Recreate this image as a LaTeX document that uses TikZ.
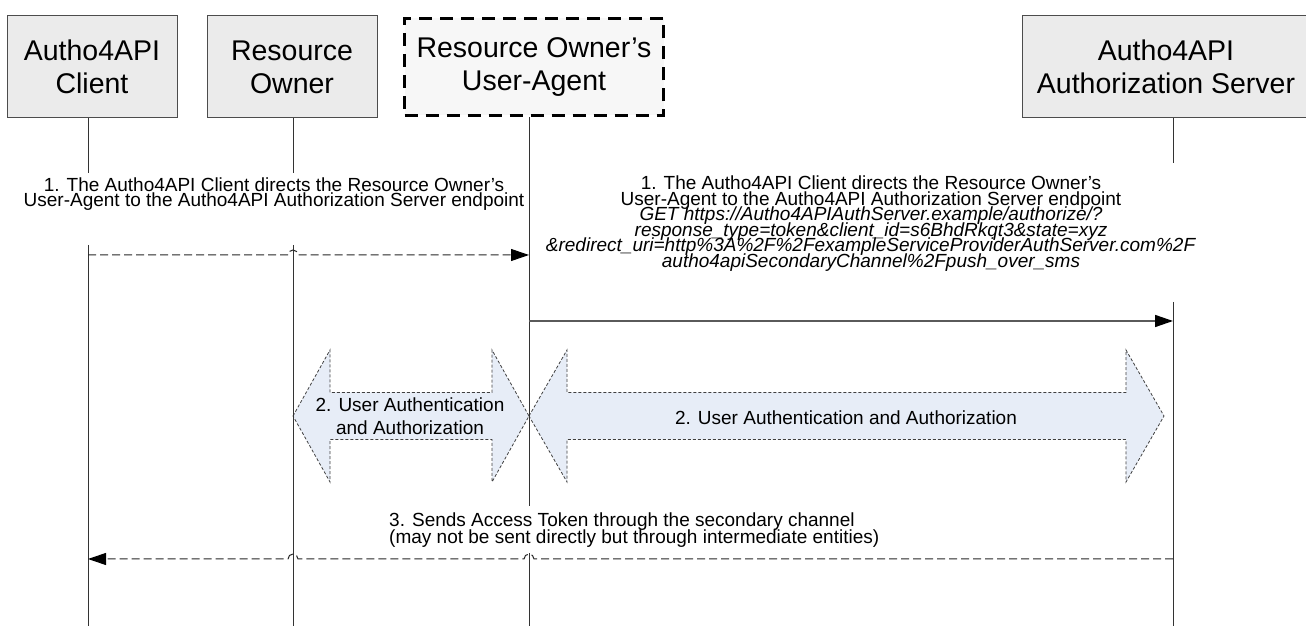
\documentclass[tikz,border=0pt]{standalone}
\usepackage{fontspec}
\setmainfont{Liberation Sans}
\usetikzlibrary{arrows.meta, calc}

\definecolor{boxgray}{HTML}{EBEBEB}
\definecolor{agentgray}{HTML}{F7F7F7}
\definecolor{authblue}{HTML}{E7EDF7}
\definecolor{wiregray}{HTML}{5A5A5A}
\newcommand{\lblfont}[1]{\fontsize{19}{#1}\selectfont\lineskiplimit=-30pt\relax}

\begin{document}
\begin{tikzpicture}[x=1pt, y=1pt,
    actor/.style={draw=black!70, line width=1pt, fill=boxgray, minimum width=170pt, minimum height=102pt, align=center, font=\fontsize{28.5}{33}\selectfont},
    life/.style={draw=black!80, line width=1pt},
    lbl/.style={inner sep=0pt, align=center, font=\lblfont{15}},
    msg/.style={draw=black!85, line width=1pt, dash pattern=on 8pt off 4pt, -{Triangle[length=18pt, width=12pt, color=black]}},
    call/.style={draw=wiregray, line width=1.5pt, -{Triangle[length=18pt, width=12pt, color=black]}},
    authblock/.style={draw=black!75, line width=0.8pt, dash pattern=on 3pt off 2pt, fill=authblue}]
    \useasboundingbox (0,0) rectangle (1306,626);

    \node[actor] (cli) at (92, 559) {Autho4API\\Client};
    \node[actor] (own) at (292, 559) {Resource\\Owner};
    \node[actor, fill=agentgray, draw=black, line width=3.5pt, dash pattern=on 13pt off 8pt, minimum width=259pt, minimum height=97pt] (ua) at (534, 559) {Resource Owner’s\\User-Agent};
    \node[actor, minimum width=288pt] (srv) at (1166, 559) {Autho4API\\Authorization Server};

    \draw[authblock] (293,210) -- (330,276) -- (330,233.5) -- (492,233.5) -- (492,276) -- (529,210) -- (492,144) -- (492,186.5) -- (330,186.5) -- (330,144) -- cycle;
    \draw[authblock] (529,210) -- (567,276) -- (567,233.5) -- (1126,233.5) -- (1126,276) -- (1164,210) -- (1126,144) -- (1126,186.5) -- (567,186.5) -- (567,144) -- cycle;
    \node[lbl, font=\lblfont{23}] (authL) at (410, 209.6) {2. User Authentication\\and Authorization};
    \node[lbl] (authR) at (846, 208.2) {2. User Authentication and Authorization};

    \coordinate (cliA) at (88, 453);
    \coordinate (cliB) at (88, 381);
    \coordinate (cliZ) at (88, 0);
    \coordinate (ownA) at (293, 453);
    \coordinate (ownB) at (293, 381);
    \coordinate (ownZ) at (293, 0);
    \coordinate (uaA) at (529, 120);
    \coordinate (uaB) at (529, 73);
    \coordinate (uaZ) at (529, 0);
    \coordinate (srvA) at (1173, 463);
    \coordinate (srvB) at (1173, 324);
    \coordinate (srvZ) at (1173, 0);
    \draw[life] (cli.south -| cliZ) -- (cliA) (cliB) -- (cliZ);
    \draw[life] (own.south -| ownZ) -- (ownA) (ownB) -- (ownZ);
    \draw[life] (ua.south -| uaZ) -- (uaA) (uaB) -- (uaZ);
    \draw[life] (srv.south -| srvZ) -- (srvA) (srvB) -- (srvZ);

    \coordinate (m1) at (0, 371);
    \coordinate (m2) at (0, 305);
    \coordinate (m3) at (0, 67);
    \draw[msg] (cliZ |- m1) -- ($(ownZ |- m1) + (-5,0)$) arc[start angle=180, end angle=0, radius=5] -- (uaZ |- m1);
    \draw[call] (uaZ |- m2) -- (srvZ |- m2);
    \draw[msg] (srvZ |- m3) -- ($(uaZ |- m3) + (5,0)$) arc[start angle=0, end angle=180, radius=5] -- ($(ownZ |- m3) + (5,0)$) arc[start angle=0, end angle=180, radius=5] -- (cliZ |- m3);

    \node[lbl] (req) at (274, 432) {1. The Autho4API Client directs the Resource Owner’s\\User-Agent to the Autho4API Authorization Server endpoint};
    \node[lbl, font=\lblfont{15.5}] (redir) at (871, 402.4) {1. The Autho4API Client directs the Resource Owner’s\\User-Agent to the Autho4API Authorization Server endpoint\\\textit{GET https://Autho4APIAuthServer.example/authorize/?}\\\textit{response\_type=token\&client\_id=s6BhdRkqt3\&state=xyz}\\\textit{\&redirect\_uri=http\%3A\%2F\%2FexampleServiceProviderAuthServer.com\%2F}\\\textit{autho4apiSecondaryChannel\%2Fpush\_over\_sms}};
    \node[lbl, align=left, anchor=west, font=\lblfont{17}] (tok) at (389, 96) {3. Sends Access Token through the secondary channel\\(may not be sent directly but through intermediate entities)};
\end{tikzpicture}
\end{document}
